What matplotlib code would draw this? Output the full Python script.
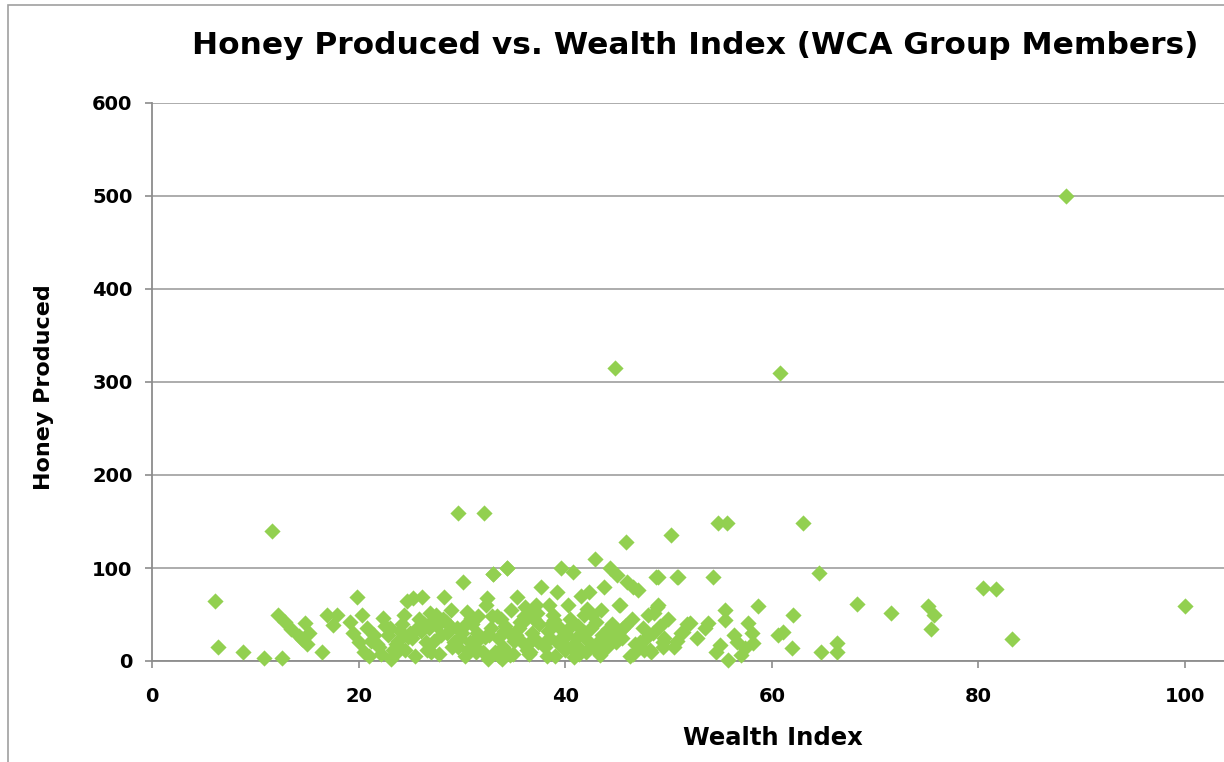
import matplotlib
matplotlib.use("Agg")
import matplotlib.pyplot as plt
from matplotlib.patches import Rectangle

# Data (Wealth Index, Honey Produced)
wealth_index = [
    6.1, 6.4, 8.8, 10.8, 12.6, 11.6, 12.2, 12.9, 13.5, 14.2, 14.8, 15.2, 14.5, 15.0, 16.5, 16.9, 17.9, 17.5,
    19.8, 20.3, 19.5, 20.0, 20.5, 21.0, 21.5, 22.4, 22.0, 23.0, 23.5, 23.8, 24.2, 24.7, 25.3, 24.5, 25.0, 25.5,
    25.8, 26.1, 26.5, 26.8, 27.0, 27.5, 28.3, 28.0, 28.5, 29.0, 29.5, 30.1, 30.5, 29.8, 30.3, 30.8, 31.0, 31.5,
    32.0, 32.4, 32.3, 32.8, 32.5, 33.0, 33.5, 33.8, 34.4, 34.0, 34.8, 35.3, 35.5, 35.8, 36.0, 36.5, 36.8, 37.2,
    37.7, 37.5, 38.0, 38.5, 38.8, 39.2, 39.0, 39.6, 39.5, 40.0, 40.3, 40.8, 40.5, 41.0, 41.5, 41.8, 42.3, 42.0,
    42.5, 42.9, 43.2, 43.8, 43.5, 44.3, 44.0, 44.5, 45.0, 45.2, 45.5, 45.9, 46.0, 46.3, 46.5, 47.0, 47.2, 47.5,
    48.0, 48.3, 48.8, 48.5, 49.0, 49.5, 50.2, 50.0, 50.5, 50.8, 51.2, 51.8,
    20.8, 21.8, 22.8, 23.3, 24.0, 26.3, 27.3, 27.8, 28.8, 29.3, 30.0, 31.3, 31.8, 33.2, 34.2, 35.0, 36.3, 37.0,
    38.3, 39.8, 40.2, 41.3, 42.7, 43.0, 44.8, 46.8, 47.8, 49.2, 19.2, 22.2, 25.2, 26.0, 28.2, 29.6, 31.2, 32.6,
    33.6, 34.6, 35.6, 36.6, 37.4, 38.6, 39.4, 40.6, 41.6, 42.2, 43.6, 45.6, 46.6, 47.6, 48.6, 49.6, 23.6, 27.6,
    31.6, 35.2, 38.2, 41.2, 44.2, 30.6, 33.9, 36.9,
    21.2, 22.6, 23.9, 24.8, 25.6, 26.6, 27.2, 28.6, 29.2, 30.4, 31.4, 32.2, 33.4, 34.1, 34.9, 35.9, 36.4, 37.3,
    38.1, 38.9, 39.7, 40.4, 41.1, 41.9, 42.6, 43.4, 44.1, 44.9, 23.1, 26.9, 30.9, 34.7, 38.4, 42.1, 45.8, 28.9,
    32.9, 36.1, 40.9, 24.4,
    88.5, 44.8, 60.8, 29.6, 32.1, 54.8, 55.7, 63.0, 33.0, 34.4, 45.3, 46.6,
    49.0, 50.9, 54.3, 64.6, 68.2, 58.7, 62.1, 53.8, 48.9, 55.5, 55.5, 57.7, 58.1, 60.6, 61.1, 62.0, 64.8, 66.3,
    66.3, 54.6, 55.0, 55.8, 57.0, 57.4, 58.2, 52.1, 51.4, 50.8, 49.5, 48.2, 52.8, 53.5, 56.3, 56.6,
    71.5, 75.1, 75.7, 75.4, 80.4, 81.7, 83.3, 100.0,
]
honey_produced = [
    65, 15, 10, 3, 3, 140, 50, 42, 34, 27, 41, 30, 24, 18, 10, 50, 50, 39,
    69, 50, 30, 20, 10, 5, 28, 46, 15, 35, 8, 22, 40, 64, 68, 12, 30, 5,
    45, 69, 20, 35, 10, 50, 69, 28, 42, 15, 35, 85, 53, 25, 5, 20, 40, 30,
    10, 68, 60, 35, 2, 94, 25, 45, 100, 15, 55, 69, 35, 20, 48, 8, 30, 60,
    80, 40, 15, 25, 50, 74, 5, 100, 35, 12, 60, 96, 45, 25, 70, 50, 74, 10,
    35, 110, 20, 80, 55, 100, 15, 40, 93, 60, 25, 128, 85, 5, 45, 76, 20, 35,
    50, 10, 90, 30, 60, 20, 135, 45, 15, 90, 30, 40,
    35, 18, 28, 12, 32, 40, 22, 8, 38, 20, 30, 15, 25, 10, 38, 22, 12, 45,
    32, 18, 28, 8, 15, 42, 30, 18, 25, 38, 42, 8, 25, 32, 45, 15, 22, 28,
    5, 30, 42, 10, 20, 40, 18, 15, 30, 22, 28, 35, 8, 12, 52, 25, 18, 38,
    48, 28, 5, 38, 22, 12, 2, 55,
    22, 38, 14, 26, 34, 12, 44, 30, 20, 40, 10, 26, 48, 32, 8, 42, 18, 52,
    22, 44, 26, 36, 16, 30, 50, 6, 34, 20, 2, 52, 46, 6, 60, 56, 38, 55,
    48, 58, 4, 50,
    500, 315, 310, 159, 159, 148, 148, 148, 94, 100, 60, 80,
    90, 90, 90, 95, 61, 59, 50, 41, 58, 55, 44, 41, 30, 28, 31, 14, 10, 19,
    10, 10, 17, 1, 6, 14, 19, 41, 31, 22, 15, 12, 25, 35, 28, 20,
    52, 59, 50, 34, 79, 77, 24, 59,
]

x_ticks = [0, 20, 40, 60, 80, 100]
y_ticks = [0, 100, 200, 300, 400, 500, 600]

title = "Honey Produced vs. Wealth Index (WCA Group Members)"
x_label = "Wealth Index"
y_label = "Honey Produced"

W, H = 1224, 762
fig = plt.figure(figsize=(W / 100, H / 100), dpi=100)
fig.patch.set_facecolor("white")

FONT = "DejaVu Sans"
grid_c = "#A6A6A6"
axis_c = "#8C8C8C"
green = "#92D050"

# chart area border (Excel-like)
fig.patches.append(Rectangle((8 / W, -0.1), 1.2, (H - 5) / H + 0.1, transform=fig.transFigure,
                             fill=False, edgecolor="#A0A0A0", linewidth=1.2))

px_per_unit = (1185 - 152) / 100.0
x_max = 120
left = 152 / W
bottom = (H - 661) / H
height = (661 - 103) / H
width = x_max * px_per_unit / W
ax = fig.add_axes([left, bottom, width, height])
ax.set_xlim(0, x_max)
ax.set_ylim(0, 600)

ax.scatter(wealth_index, honey_produced, marker="D", s=68, color=green, linewidths=0, zorder=3,
           clip_on=False)

ax.set_xticks(x_ticks)
ax.set_yticks(y_ticks)
ax.set_xticklabels([str(v) for v in x_ticks], fontfamily=FONT, fontweight="bold", fontsize=14)
ax.set_yticklabels([str(v) for v in y_ticks], fontfamily=FONT, fontweight="bold", fontsize=14)
ax.tick_params(axis="x", direction="out", length=5, width=1.2, color=axis_c, pad=14)
ax.tick_params(axis="y", direction="out", length=5, width=1.2, color=axis_c, pad=9)

ax.grid(axis="y", color=grid_c, linewidth=1.3)
ax.set_axisbelow(True)
for s in ["top", "right"]:
    ax.spines[s].set_visible(False)
for s in ["left", "bottom"]:
    ax.spines[s].set_color(axis_c)
    ax.spines[s].set_linewidth(1.3)

fig.text(773 / W, 1 - 738 / H, x_label, ha="center", va="center", fontfamily=FONT,
         fontweight="bold", fontsize=17.5)
fig.text(44 / W, 1 - 387 / H, y_label, ha="center", va="center", rotation=90, fontfamily=FONT,
         fontweight="bold", fontsize=16)
fig.text(192 / W, 1 - 45 / H, title, ha="left", va="center", fontfamily=FONT,
         fontweight="bold", fontsize=22.5)

fig.savefig("out.png", dpi=100, facecolor="white")
